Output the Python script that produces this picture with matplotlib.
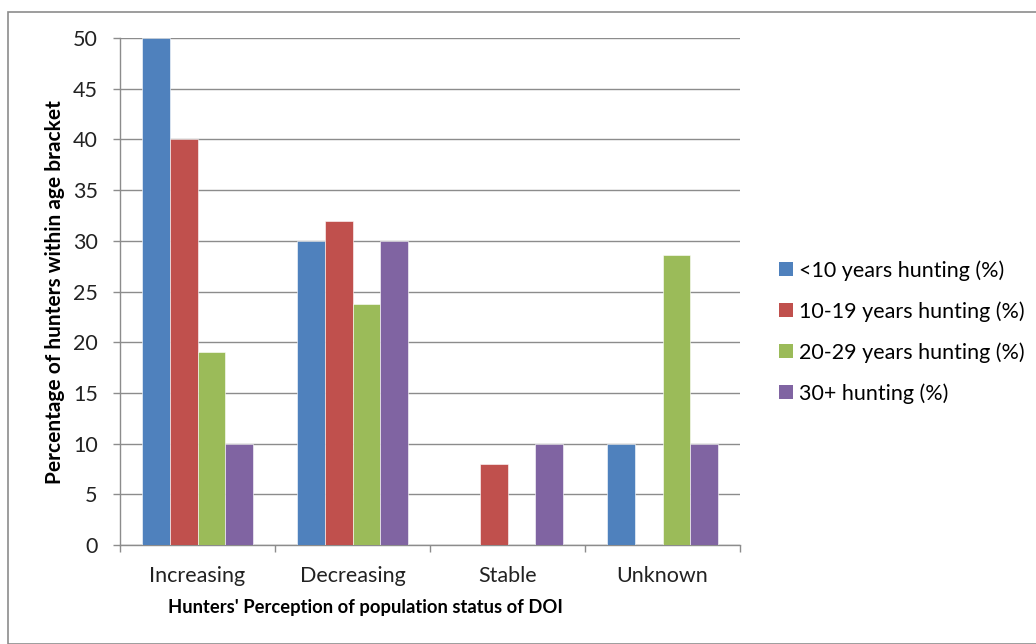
import numpy as np
import matplotlib.pyplot as plt
from matplotlib.patches import Rectangle, Patch

# ── Data ──────────────────────────────────────────────────────────────────────

categories = ["Increasing", "Decreasing", "Stable", "Unknown"]
series_names = ["<10 years hunting (%)", "10-19 years hunting (%)",
                "20-29 years hunting (%)", "30+ hunting (%)"]
under_10 = [50, 30, 0, 10]
y10_19 = [40, 32, 8, 0]
y20_29 = [19, 23.8, 0, 28.6]
y30_plus = [10, 30, 10, 10]

colors = ["#4F81BD", "#C0504D", "#9BBB59", "#8064A2"]

plt.rcParams["font.family"] = ["Lato", "DejaVu Sans"]

# ── Figure ────────────────────────────────────────────────────────────────────

fig = plt.figure(figsize=(10.36, 6.44), dpi=100)
fig.patches.append(Rectangle((8 / 1036, 0), 1040 / 1036, 1 - 12 / 644,
                             transform=fig.transFigure, fill=False,
                             edgecolor="#8c8c8c", linewidth=1.2))

ax = fig.add_axes([120 / 1036, 1 - 545 / 644, 620 / 1036, 507 / 644])

x = np.arange(len(categories))
width = 0.179
all_series = [under_10, y10_19, y20_29, y30_plus]
for i, vals in enumerate(all_series):
    ax.bar(x + (i - 1.5) * width, vals, width, color=colors[i],
           edgecolor="white", linewidth=0.4, zorder=3, label=series_names[i])

ax.set_xlim(-0.5, 3.5)
ax.set_ylim(0, 50)
ax.set_yticks(range(0, 51, 5))
ax.yaxis.grid(True, color="#8c8c8c", linewidth=1)
ax.set_axisbelow(True)

# category labels centred, ticks at the boundaries
ax.set_xticks(x)
ax.set_xticklabels(categories, fontsize=15.5, color="#222222")
ax.tick_params(axis="x", length=0, pad=15)
ax.set_xticks(np.arange(-0.5, 4, 1), minor=True)
ax.tick_params(axis="x", which="minor", length=5, color="#8c8c8c", width=1)
ax.tick_params(axis="y", length=5, color="#8c8c8c", width=1,
               labelsize=15.5, labelcolor="#222222", pad=11)

for s in ["top", "right"]:
    ax.spines[s].set_visible(False)
for s in ["left", "bottom"]:
    ax.spines[s].set_color("#8c8c8c")
    ax.spines[s].set_linewidth(1)

fig.text(365 / 1036, 1 - 607 / 644, "Hunters' Perception of population status of DOI",
         ha="center", va="center", fontsize=13.2, fontweight="bold")
fig.text(55 / 1036, 1 - 292 / 644, "Percentage of hunters within age bracket",
         ha="center", va="center", rotation=90, fontsize=15, fontweight="bold")

handles = [Patch(facecolor=c, edgecolor="none") for c in colors]
fig.legend(handles, series_names, loc="center left",
           bbox_to_anchor=(760 / 1036, 1 - 332 / 644), frameon=False,
           fontsize=15.5, handlelength=0.65, handleheight=0.65,
           handletextpad=0.25, labelspacing=0.95)

plt.savefig("out.png", dpi=100)
